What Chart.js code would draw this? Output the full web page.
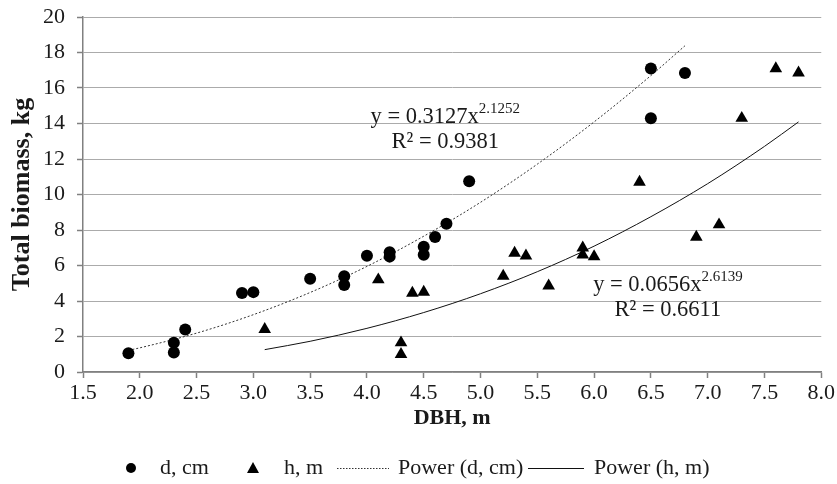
<!DOCTYPE html>
<html>
<head>
<meta charset="utf-8">
<script src="https://cdn.jsdelivr.net/npm/chart.js@4.4.1/dist/chart.umd.min.js"></script>
<style>
  html, body { margin: 0; padding: 0; background: #fff; }
  #wrap { width: 837px; height: 484px; position: relative; }
</style>
</head>
<body>
<div id="wrap"><canvas id="chart"></canvas></div>
<script>
// measured points
const dX = [1.9, 2.3, 2.3, 2.4, 2.9, 3.0, 3.5, 3.8, 3.8, 4.0, 4.2, 4.2, 4.5, 4.5, 4.6, 4.7, 4.9, 6.5, 6.5, 6.8];
const dY = [1.05, 1.65, 1.1, 2.4, 4.45, 4.5, 5.25, 5.4, 4.9, 6.55, 6.75, 6.5, 7.05, 6.6, 7.6, 8.35, 10.75, 17.1, 14.3, 16.85];
const hX = [3.1, 4.1, 4.3, 4.3, 4.4, 4.5, 5.2, 5.3, 5.4, 5.6, 5.9, 5.9, 6.0, 6.4, 6.9, 7.1, 7.3, 7.6, 7.8];
const hY = [2.4, 5.2, 1.65, 1.0, 4.45, 4.5, 5.4, 6.7, 6.55, 4.85, 7.0, 6.6, 6.5, 10.7, 7.6, 8.3, 14.3, 17.1, 16.85];

// trend curves as drawn in the figure
const dTrendX = [1.9, 2.0, 2.5, 3.0, 3.5, 4.0, 4.5, 5.0, 5.5, 6.0, 6.5, 6.8];
const dTrendY = [1.22, 1.36, 2.19, 3.23, 4.48, 5.95, 7.65, 9.56, 11.71, 14.09, 16.70, 18.38];
const hTrendX = [3.1, 3.5, 4.0, 4.5, 5.0, 5.5, 6.0, 6.5, 7.0, 7.5, 7.8];
const hTrendY = [1.26, 1.73, 2.46, 3.35, 4.41, 5.65, 7.09, 8.75, 10.61, 12.71, 14.09];

const legendLabels = ['d, cm', 'h, m', 'Power (d, cm)', 'Power (h, m)'];
const eqD = ['y = 0.3127x', '2.1252', 'R\u00b2 = 0.9381'];
const eqH = ['y = 0.0656x', '2.6139', 'R\u00b2 = 0.6611'];

const SERIF = "'Liberation Serif', 'Times New Roman', serif";
const TXT = '#1a1a1a';

function pts(xs, ys) {
  return xs.map((x, i) => ({ x: x, y: ys[i] }));
}

const eqPlugin = {
  id: 'equations',
  afterDatasetsDraw(chart) {
    const ctx = chart.ctx;
    const sx = chart.scales.x, sy = chart.scales.y;
    const big = '22.5px ' + SERIF, small = '15px ' + SERIF;
    const drawEq = (eq, cx, y1, y2) => {
      ctx.save();
      ctx.fillStyle = TXT;
      ctx.textBaseline = 'middle';
      ctx.font = big;
      const w1 = ctx.measureText(eq[0]).width;
      ctx.font = small;
      const w2 = ctx.measureText(eq[1]).width;
      const px = sx.getPixelForValue(cx) - (w1 + w2) / 2;
      const py = sy.getPixelForValue(y1);
      ctx.textAlign = 'left';
      ctx.font = big;
      ctx.fillText(eq[0], px, py);
      ctx.font = small;
      ctx.fillText(eq[1], px + w1, py - 8);
      ctx.font = big;
      ctx.textAlign = 'center';
      ctx.fillText(eq[2], sx.getPixelForValue(cx), sy.getPixelForValue(y2));
      ctx.restore();
    };
    drawEq(eqD, 4.69, 14.35, 12.95);
    drawEq(eqH, 6.65, 4.92, 3.5);
  }
};

const legendPlugin = {
  id: 'bottomLegend',
  afterDraw(chart) {
    const ctx = chart.ctx;
    const y = 468;
    ctx.save();
    ctx.fillStyle = '#000';
    ctx.strokeStyle = '#000';
    ctx.beginPath();
    ctx.arc(131, y, 5, 0, Math.PI * 2);
    ctx.fill();
    ctx.beginPath();
    ctx.moveTo(253, y - 6);
    ctx.lineTo(259, y + 5);
    ctx.lineTo(247, y + 5);
    ctx.closePath();
    ctx.fill();
    ctx.lineWidth = 1;
    ctx.strokeStyle = '#333';
    ctx.setLineDash([1.5, 1.5]);
    ctx.beginPath();
    ctx.moveTo(337, y + 0.5);
    ctx.lineTo(389, y + 0.5);
    ctx.stroke();
    ctx.setLineDash([]);
    ctx.strokeStyle = '#111';
    ctx.beginPath();
    ctx.moveTo(528, y + 0.5);
    ctx.lineTo(584, y + 0.5);
    ctx.stroke();
    ctx.fillStyle = TXT;
    ctx.font = '22px ' + SERIF;
    ctx.textBaseline = 'middle';
    ctx.textAlign = 'left';
    ctx.fillText(legendLabels[0], 160, y);
    ctx.fillText(legendLabels[1], 284, y);
    ctx.fillText(legendLabels[2], 398, y);
    ctx.fillText(legendLabels[3], 594, y);
    ctx.restore();
  }
};

new Chart(document.getElementById('chart'), {
  type: 'scatter',
  data: {
    datasets: [
      {
        label: legendLabels[0],
        data: pts(dX, dY),
        pointStyle: 'circle',
        pointRadius: 6,
        pointBackgroundColor: '#000',
        pointBorderColor: '#000',
        pointBorderWidth: 0,
        showLine: false,
        order: 1
      },
      {
        label: legendLabels[1],
        data: pts(hX, hY),
        pointStyle: 'triangle',
        pointRadius: 7.3,
        pointBackgroundColor: '#000',
        pointBorderColor: '#000',
        pointBorderWidth: 0,
        showLine: false,
        order: 1
      },
      {
        label: legendLabels[2],
        data: pts(dTrendX, dTrendY),
        showLine: true,
        pointRadius: 0,
        borderColor: '#333',
        borderWidth: 1,
        borderDash: [2, 2],
        cubicInterpolationMode: 'monotone',
        order: 2
      },
      {
        label: legendLabels[3],
        data: pts(hTrendX, hTrendY),
        showLine: true,
        pointRadius: 0,
        borderColor: '#111',
        borderWidth: 1,
        cubicInterpolationMode: 'monotone',
        order: 2
      }
    ]
  },
  options: {
    responsive: true,
    maintainAspectRatio: false,
    animation: false,
    layout: { padding: { left: 0, right: 15, top: 17, bottom: 40 } },
    plugins: {
      legend: { display: false },
      tooltip: { enabled: false }
    },
    scales: {
      x: {
        type: 'linear',
        min: 1.5,
        max: 8.0,
        ticks: {
          stepSize: 0.5,
          color: TXT,
          font: { family: SERIF, size: 22 },
          padding: 2,
          maxRotation: 0,
          callback: v => v.toFixed(1)
        },
        grid: {
          drawOnChartArea: false,
          tickLength: 6,
          tickColor: '#808080',
          tickWidth: 1.5
        },
        border: { color: '#808080', width: 1.5 },
        title: {
          display: true,
          text: 'DBH, m',
          color: TXT,
          font: { family: SERIF, size: 22, weight: 'bold' },
          padding: { top: 12, bottom: 12 }
        },
        afterFit(scale) { scale.height = 72; }
      },
      y: {
        min: 0,
        max: 20,
        ticks: {
          stepSize: 2,
          color: TXT,
          font: { family: SERIF, size: 22 },
          padding: 12
        },
        grid: {
          color: '#ababab',
          lineWidth: 1,
          tickLength: 6,
          tickColor: '#808080',
          tickWidth: 1.5
        },
        border: { color: '#808080', width: 1.5 },
        title: {
          display: true,
          text: 'Total biomass, kg',
          color: TXT,
          font: { family: SERIF, size: 26, weight: 'bold' },
          padding: { top: 7, bottom: 7 }
        },
        afterFit(scale) {
          scale.width = 83;
          scale.paddingTop = 0;
          scale.paddingBottom = 0;
        }
      }
    }
  },
  plugins: [eqPlugin, legendPlugin]
});
</script>
</body>
</html>
